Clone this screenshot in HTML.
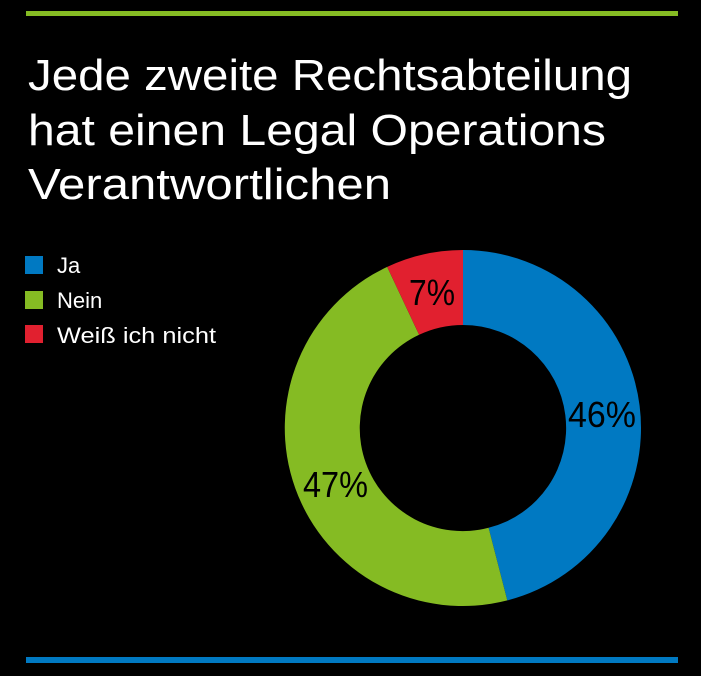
<!DOCTYPE html>
<html><head><meta charset="utf-8"><style>
html,body{margin:0;padding:0;background:#000;}
svg{display:block;}
</style></head><body>
<svg width="701" height="676" viewBox="0 0 701 676" xmlns="http://www.w3.org/2000/svg">
<rect width="701" height="676" fill="#000"/>
<rect x="26" y="11" width="652" height="5" fill="#85bb23"/>
<rect x="26" y="657" width="652" height="6" fill="#0079c2"/>
<g font-family="Liberation Sans, sans-serif" fill="#fff" font-size="44">
<text x="28" y="90" textLength="604" lengthAdjust="spacingAndGlyphs">Jede zweite Rechtsabteilung</text>
<text x="28" y="145" textLength="578" lengthAdjust="spacingAndGlyphs">hat einen Legal Operations</text>
<text x="28" y="199" textLength="363" lengthAdjust="spacingAndGlyphs">Verantwortlichen</text>
</g>
<rect x="25" y="256" width="18" height="18" fill="#0079c2"/>
<rect x="25" y="291" width="18" height="18" fill="#85bb23"/>
<rect x="25" y="325" width="18" height="18" fill="#e1202f"/>
<g font-family="Liberation Sans, sans-serif" fill="#fff" font-size="22">
<text x="57" y="273">Ja</text>
<text x="57" y="308">Nein</text>
<text x="57" y="343" textLength="159" lengthAdjust="spacingAndGlyphs">Weiß ich nicht</text>
</g>
<g transform="translate(463,428)">
<path d="M0,-178 A178,178 0 0 1 44.3,172.4 L25.6,99.8 A103,103 0 0 0 0,-103 Z" fill="#0079c2"/>
<path d="M44.3,172.4 A178,178 0 0 1 -75.8,-161.1 L-43.9,-93.2 A103,103 0 0 0 25.6,99.8 Z" fill="#85bb23"/>
<path d="M-75.8,-161.1 A178,178 0 0 1 0,-178 L0,-103 A103,103 0 0 0 -43.9,-93.2 Z" fill="#e1202f"/>
</g>
<g font-family="Liberation Sans, sans-serif" fill="#000" font-size="36">
<text x="568" y="427" textLength="68" lengthAdjust="spacingAndGlyphs">46%</text>
<text x="303" y="497" textLength="65" lengthAdjust="spacingAndGlyphs">47%</text>
<text x="409" y="305" textLength="46" lengthAdjust="spacingAndGlyphs">7%</text>
</g>
</svg>
</body></html>
